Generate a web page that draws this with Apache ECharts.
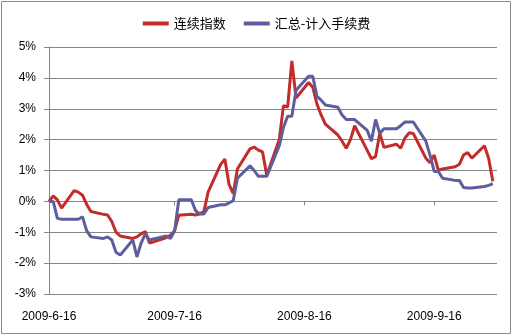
<!DOCTYPE html>
<html>
<head>
<meta charset="utf-8">
<script src="https://cdn.jsdelivr.net/npm/echarts@6/dist/echarts.min.js"></script>
<style>
  html, body { margin: 0; padding: 0; background: #fff; }
  #chart { width: 513px; height: 336px; }
</style>
</head>
<body>
<div id="chart"></div>
<script>
// trading days shown on the chart
const dates = [
  "2009-06-16","2009-06-17","2009-06-18","2009-06-19",
  "2009-06-22","2009-06-23","2009-06-24","2009-06-25","2009-06-26",
  "2009-06-29","2009-06-30","2009-07-01","2009-07-02","2009-07-03",
  "2009-07-06","2009-07-07","2009-07-08","2009-07-09","2009-07-10",
  "2009-07-13","2009-07-14","2009-07-15","2009-07-16","2009-07-17",
  "2009-07-20","2009-07-21","2009-07-22","2009-07-23","2009-07-24",
  "2009-07-27","2009-07-28","2009-07-29","2009-07-30","2009-07-31",
  "2009-08-03","2009-08-04","2009-08-05","2009-08-06","2009-08-07",
  "2009-08-10","2009-08-11","2009-08-12","2009-08-13","2009-08-14",
  "2009-08-17","2009-08-18","2009-08-19","2009-08-20","2009-08-21",
  "2009-08-24","2009-08-25","2009-08-26","2009-08-27","2009-08-28",
  "2009-08-31","2009-09-01","2009-09-02","2009-09-03","2009-09-04",
  "2009-09-07","2009-09-08","2009-09-09","2009-09-10","2009-09-11",
  "2009-09-14","2009-09-15","2009-09-16","2009-09-17","2009-09-18",
  "2009-09-21","2009-09-22","2009-09-23","2009-09-24","2009-09-25",
  "2009-09-28","2009-09-29","2009-09-30"
];

// 连续指数 (%)
const seriesIndex = [
  0.0, 0.18, 0.05, -0.22,
  0.35, 0.3, 0.2, -0.1, -0.33,
  -0.42, -0.44, -0.65, -1.0, -1.12,
  -1.2, -1.15, -1.05, -0.98, -1.35,
  -1.22, -1.17, -1.1, -0.95, -0.45,
  -0.42, -0.44, -0.4, -0.33, 0.3,
  1.2, 1.37, 0.55, 0.25, 1.05,
  1.7, 1.76, 1.66, 1.6, 0.85,
  2.0, 3.1, 3.05, 4.55, 3.35,
  3.85, 3.7, 3.15, 2.8, 2.5,
  2.15, 1.95, 1.72, 2.0, 2.45,
  1.65, 1.38, 1.45, 2.2, 1.75,
  1.85, 1.72, 2.05, 2.22, 2.2,
  1.4, 1.25, 1.5, 1.0, 1.05,
  1.12, 1.2, 1.5, 1.58, 1.4,
  1.8, 1.4, 0.65
];

// 汇总-计入手续费 (%)
const seriesFee = [
  0.0, 0.0, -0.55, -0.58,
  -0.58, -0.58, -0.5, -0.95, -1.15,
  -1.2, -1.15, -1.25, -1.65, -1.74,
  -1.25, -1.8, -1.35, -1.05, -1.25,
  -1.15, -1.12, -1.2, -0.95, 0.05,
  0.05, -0.3, -0.41, -0.41, -0.2,
  -0.11, -0.11, -0.05, 0.02, 0.75,
  1.15, 1.0, 0.81, 0.81, 0.81,
  1.8, 2.4, 2.76, 2.76, 3.6,
  4.05, 4.05, 3.4, 3.28, 3.12,
  3.05, 2.8, 2.65, 2.65, 2.65,
  2.3, 1.95, 2.65, 2.2, 2.35,
  2.35, 2.45, 2.57, 2.57, 2.57,
  1.95, 1.5, 0.97, 0.97, 0.75,
  0.68, 0.68, 0.45, 0.43, 0.43,
  0.48, 0.52, 0.57
];

const seriesNames = ["连续指数", "汇总-计入手续费"];
const xTickDates = ["2009-06-16", "2009-07-16", "2009-08-16", "2009-09-16"];
const xEndDate = "2009-10-01";

const DAY = 86400000;
const startMs = Date.parse(dates[0] + "T00:00:00Z");
const dayOf = (s) => Math.round((Date.parse(s + "T00:00:00Z") - startMs) / DAY);
const labelOf = (v) => {
  const d = new Date(startMs + v * DAY);
  return `${d.getUTCFullYear()}-${d.getUTCMonth() + 1}-${d.getUTCDate()}`;
};

const xDays = dates.map(dayOf);
const tickDays = xTickDates.map(dayOf);
const maxDay = dayOf(xEndDate);

const gray = "#868686";
const font = "Liberation Sans";

const chart = echarts.init(document.getElementById("chart"));

chart.setOption({
  animation: false,
  backgroundColor: "#fff",
  textStyle: { fontFamily: font },
  graphic: [{
    type: "rect",
    shape: { x: 1.5, y: 1.5, width: 509, height: 332 },
    style: { fill: "none", stroke: "#8a8a8a", lineWidth: 1 },
    silent: true
  }],
  legend: {
    top: 12,
    left: "center",
    itemWidth: 26,
    itemHeight: 4,
    itemGap: 18,
    icon: "rect",
    textStyle: { fontFamily: "Noto Sans CJK SC", fontSize: 13, color: "#000" },
    data: seriesNames
  },
  grid: { left: 49, right: 16, top: 47, bottom: 42 },
  xAxis: [{
    type: "value",
    min: 0,
    max: maxDay,
    position: "bottom",
    axisLine: { show: false, onZero: false },
    axisTick: { show: false },
    splitLine: { show: false },
    axisLabel: {
      customValues: tickDays,
      formatter: labelOf,
      margin: 17,
      fontSize: 12,
      color: "#000",
      fontFamily: font
    }
  }, {
    type: "value",
    min: 0,
    max: maxDay,
    position: "bottom",
    axisLine: { show: true, onZero: true, lineStyle: { color: gray, width: 1 } },
    axisTick: { show: true, customValues: tickDays, length: 4, lineStyle: { color: gray } },
    axisLabel: { show: false },
    splitLine: { show: false }
  }],
  yAxis: {
    type: "value",
    min: -3,
    max: 5,
    interval: 1,
    axisLine: { show: true, lineStyle: { color: gray, width: 1 } },
    axisTick: { show: true, length: 5, lineStyle: { color: gray } },
    splitLine: { show: true, lineStyle: { color: gray, width: 1 } },
    axisLabel: {
      formatter: "{value}%",
      margin: 13,
      fontSize: 12,
      color: "#000",
      fontFamily: font
    }
  },
  series: [{
    name: seriesNames[0],
    type: "line",
    xAxisIndex: 0,
    symbol: "none",
    color: "#C42B2B",
    lineStyle: { width: 3, color: "#C42B2B" },
    data: xDays.map((d, i) => [d, seriesIndex[i]])
  }, {
    name: seriesNames[1],
    type: "line",
    xAxisIndex: 0,
    symbol: "none",
    color: "#5E5E9E",
    lineStyle: { width: 3, color: "#5E5E9E" },
    data: xDays.map((d, i) => [d, seriesFee[i]])
  }]
});
</script>
</body>
</html>
